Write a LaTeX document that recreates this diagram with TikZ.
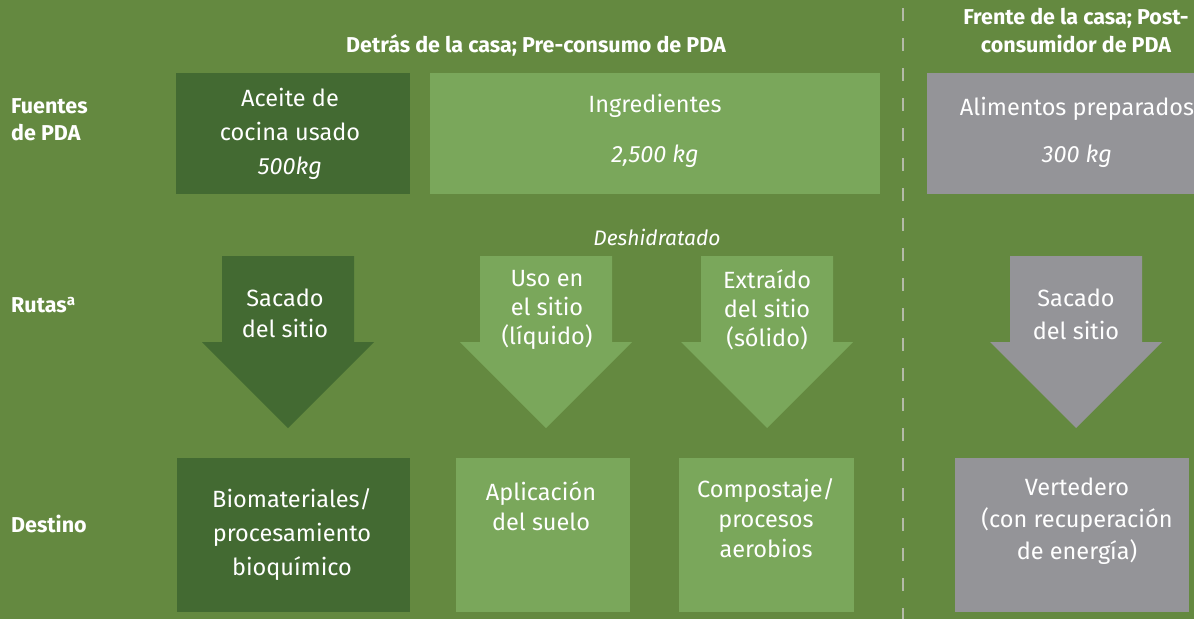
\documentclass[tikz,border=0pt]{standalone}
\usepackage{fontspec}
\setmainfont{Fira Sans}
\definecolor{bggreen}{RGB}{100,137,64}
\definecolor{darkgreen}{RGB}{67,106,50}
\definecolor{lightgreen}{RGB}{122,167,91}
\definecolor{warmgrey}{RGB}{148,148,152}
\definecolor{dashgrey}{RGB}{180,186,168}
\newcommand{\routearrow}[2]{%
\fill[#1] (#2-66,256) -- (#2+66,256) -- (#2+66,342) -- (#2+86,342) -- (#2,428) -- (#2-86,342) -- (#2-66,342) -- cycle;}
\tikzset{
  box/.style={inner sep=0, draw=none},
  darkbox/.style={box, fill=darkgreen},
  lightbox/.style={box, fill=lightgreen},
  greybox/.style={box, fill=warmgrey},
  txt/.style={text=white, align=center, inner sep=0, font=\fontsize{23.5}{#1}\selectfont},
  txt/.default=34,
  lbl/.style={text=white, anchor=west, align=left, inner sep=0, font=\bfseries\fontsize{21.5}{27}\selectfont},
  hdr/.style={text=white, align=center, inner sep=0, font=\bfseries\fontsize{21.5}{28}\selectfont}
}

\begin{document}
\begin{tikzpicture}[x=1pt,y=-1pt]
\useasboundingbox (0,0) rectangle (1194,619);
\clip (0,0) rectangle (1194,619);
\fill[bggreen] (0,0) rectangle (1194,619);

% split between back and front of house
\draw[dashgrey, line width=2.5pt, dash pattern=on 13pt off 17pt] (903,8) -- (903,619);

\node[hdr] (backhdr) at (536,45) {Detrás de la casa; Pre-consumo de PDA};
\node[hdr] (fronthdr) at (1076,31) {Frente de la casa; Post-\\consumidor de PDA};

\node[lbl] (srclbl) at (11,120) {Fuentes\\de PDA};
\node[lbl] (routelbl) at (11,305) {Rutas\textsuperscript{a}};
\node[lbl] (destlbl) at (11,524) {Destino};

% sources
\node[darkbox, minimum width=234, minimum height=121] (oil) at (293,133.5) {};
\node[txt] (oiltxt) at (290,134) {Aceite de\\cocina usado\\\textit{500kg}};

\node[lightbox, minimum width=450, minimum height=121] (ingr) at (655,133.5) {};
\node[txt=50] (ingrtxt) at (655,131) {Ingredientes\\\textit{2,500 kg}};

\node[greybox, minimum width=303, minimum height=121] (prep) at (1078.5,133.5) {};
\node[txt=47] (preptxt) at (1077,132) {Alimentos preparados\\\textit{300 kg}};

% routes
\node[txt, font=\itshape\fontsize{21}{24}\selectfont] (dehyd) at (657,237) {Deshidratado};

\routearrow{darkgreen}{288}
\node[txt=31] (offsite) at (285,313) {Sacado\\del sitio};

\routearrow{lightgreen}{546}
\node[txt=29] (onsite) at (547,310) {Uso en\\el sitio\\(líquido)};

\routearrow{lightgreen}{767}
\node[txt=29] (extract) at (767,310) {Extraído\\del sitio\\(sólido)};

\routearrow{warmgrey}{1076}
\node[txt=33] (offsitefront) at (1076,314) {Sacado\\del sitio};

% destinations
\node[darkbox, minimum width=233, minimum height=154] (bio) at (293.5,535) {};
\node[txt] (biotxt) at (292,535) {Biomateriales/\\procesamiento\\bioquímico};

\node[lightbox, minimum width=174, minimum height=154] (soil) at (543,535) {};
\node[txt=30] (soiltxt) at (541,506) {Aplicación\\del suelo};

\node[lightbox, minimum width=175, minimum height=154] (comp) at (766.5,535) {};
\node[txt=30] (comptxt) at (766,518) {Compostaje/\\procesos\\aerobios};

\node[greybox, minimum width=234, minimum height=154] (landfill) at (1072,535) {};
\node[txt=32] (landfilltxt) at (1077,521) {Vertedero\\(con recuperación\\de energía)};
\end{tikzpicture}
\end{document}
